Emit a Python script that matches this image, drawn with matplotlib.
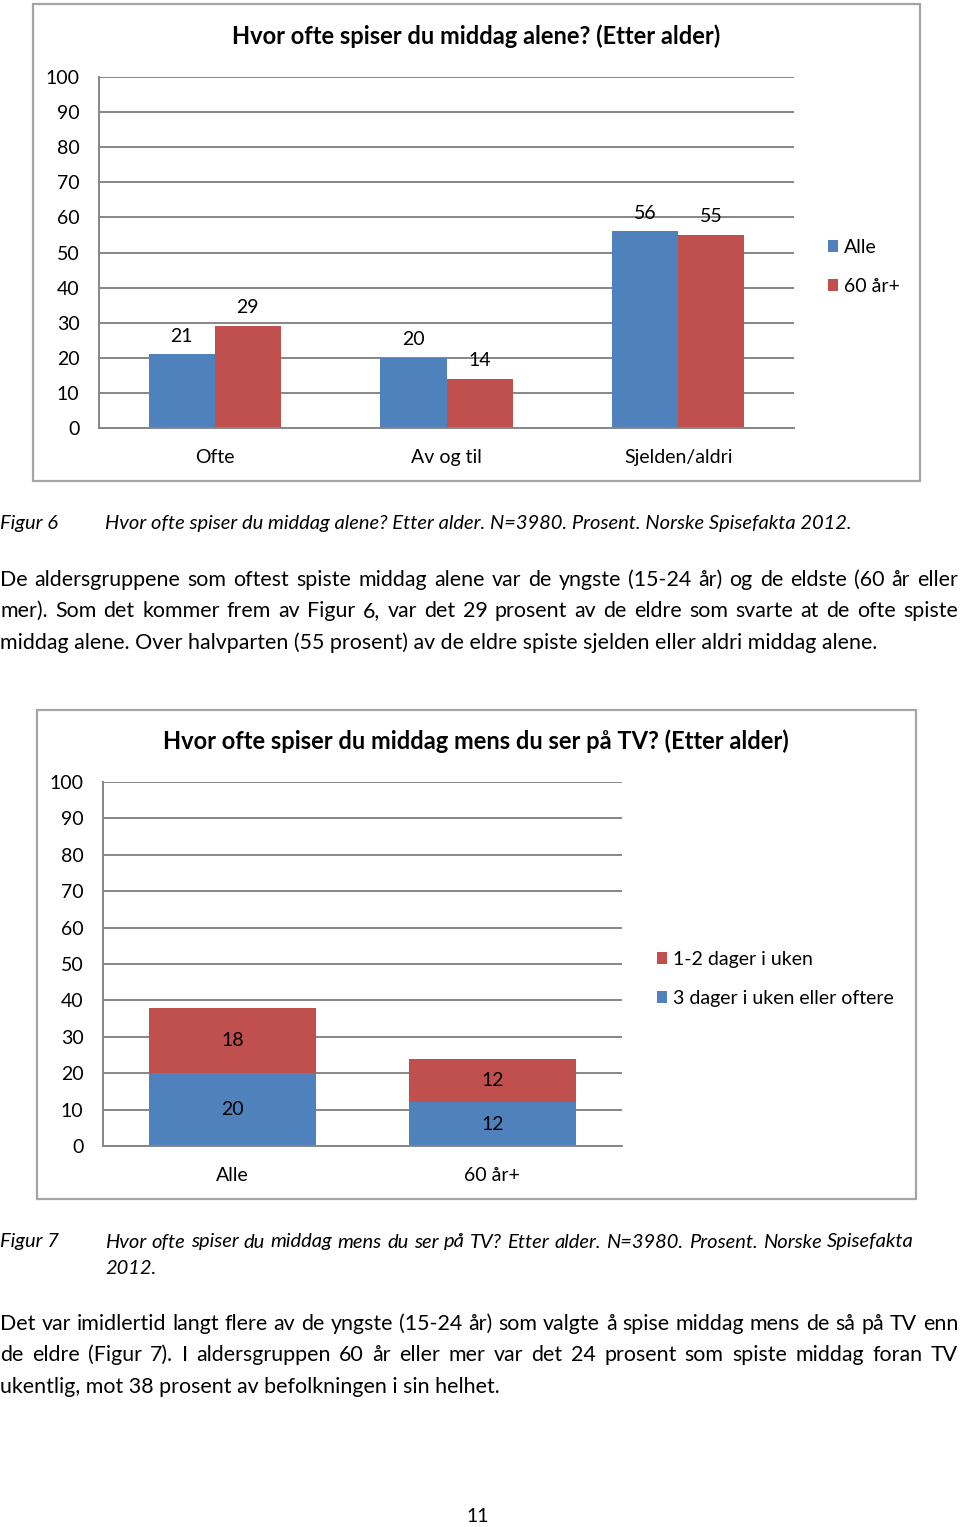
import matplotlib
matplotlib.use("Agg")
import matplotlib.pyplot as plt
from matplotlib.patches import Rectangle
import numpy as np

plt.rcParams['font.family'] = ['Lato', 'DejaVu Sans']

# ---------------- data ----------------
cats1 = ["Ofte", "Av og til", "Sjelden/aldri"]
alle1 = [21, 20, 56]
eldre1 = [29, 14, 55]
series1 = ["Alle", "60 år+"]
title1 = "Hvor ofte spiser du middag alene? (Etter alder)"

cats2 = ["Alle", "60 år+"]
often2 = [20, 12]      # 3 dager i uken eller oftere
weekly2 = [18, 12]     # 1-2 dager i uken
series2 = ["3 dager i uken eller oftere", "1-2 dager i uken"]
title2 = "Hvor ofte spiser du middag mens du ser på TV? (Etter alder)"

yticks = list(range(0, 101, 10))

cap6_label = "Figur 6"
cap6_text = "Hvor ofte spiser du middag alene? Etter alder. N=3980. Prosent. Norske Spisefakta 2012."
para1 = [
    "De aldersgruppene som oftest spiste middag alene var de yngste (15-24 år) og de eldste (60 år eller",
    "mer). Som det kommer frem av Figur 6, var det 29 prosent av de eldre som svarte at de ofte spiste",
    "middag alene. Over halvparten (55 prosent) av de eldre spiste sjelden eller aldri middag alene.",
]
cap7_label = "Figur 7"
cap7_lines = ["Hvor ofte spiser du middag mens du ser på TV? Etter alder. N=3980. Prosent. Norske Spisefakta",
              "2012."]
para2 = [
    "Det var imidlertid langt flere av de yngste (15-24 år) som valgte å spise middag mens de så på TV enn",
    "de eldre (Figur 7). I aldersgruppen 60 år eller mer var det 24 prosent som spiste middag foran TV",
    "ukentlig, mot 38 prosent av befolkningen i sin helhet.",
]
page_no = "11"

# ---------------- layout ----------------
W, H = 960, 1527
fig = plt.figure(figsize=(W / 100, H / 100), dpi=100)
BLUE = "#4F81BD"
RED = "#C0504D"
GRID = "#868686"
FS = 14.0        # chart text
FT = 17.0        # chart titles
FB = 15.4        # body text
FC = 14.5        # captions

def fx(x):
    return x / W

def fy(y):
    return 1 - y / H

def axes_px(x0, y0, x1, y1):
    return fig.add_axes([fx(x0), fy(y1), (x1 - x0) / W, (y1 - y0) / H])

def frame(x0, y0, x1, y1):
    fig.patches.append(Rectangle((fx(x0), fy(y1)), (x1 - x0) / W, (y1 - y0) / H,
                                 transform=fig.transFigure, fill=False,
                                 edgecolor="#A5A5A5", linewidth=1.6))

def style_axes(ax):
    ax.set_ylim(0, 100)
    ax.set_yticks(yticks)
    ax.yaxis.grid(True, color=GRID, linewidth=1.4)
    ax.set_axisbelow(True)
    for s in ["top", "right"]:
        ax.spines[s].set_visible(False)
    for s in ["left", "bottom"]:
        ax.spines[s].set_color(GRID)
        ax.spines[s].set_linewidth(1.4)
    ax.tick_params(axis='y', length=0, pad=14, labelsize=FS)
    ax.tick_params(axis='x', length=0, pad=15, labelsize=FS)
    ax.set_facecolor("none")

# ---- chart 1 ----
frame(33, 4, 920, 481)
fig.text(fx(476), fy(36), title1, ha="center", va="center", fontsize=FT, fontweight="bold")
ax1 = axes_px(99, 77, 794, 428)
style_axes(ax1)
x = np.arange(len(cats1))
bw = 0.285
b1 = ax1.bar(x - bw / 2, alle1, bw, color=BLUE, label=series1[0])
b2 = ax1.bar(x + bw / 2, eldre1, bw, color=RED, label=series1[1])
ax1.set_xlim(-0.5, len(cats1) - 0.5)
ax1.set_xticks(x)
ax1.set_xticklabels(cats1)
ax1.bar_label(b1, padding=7, fontsize=FS)
ax1.bar_label(b2, padding=7, fontsize=FS)
ax1.legend(loc="center left", bbox_to_anchor=(fx(818), fy(267)), bbox_transform=fig.transFigure,
           frameon=False, fontsize=FS, handlelength=0.55, handleheight=0.55,
           handletextpad=0.3, labelspacing=1.12, borderpad=0)

# ---- chart 2 ----
frame(37, 710, 916, 1199)
fig.text(fx(476), fy(741), title2, ha="center", va="center", fontsize=FT, fontweight="bold")
ax2 = axes_px(103, 782, 622, 1146)
style_axes(ax2)
x2 = np.arange(len(cats2))
bw2 = 0.645
s1 = ax2.bar(x2, often2, bw2, color=BLUE, label=series2[0])
s2 = ax2.bar(x2, weekly2, bw2, bottom=often2, color=RED, label=series2[1])
ax2.set_xlim(-0.5, len(cats2) - 0.5)
ax2.set_xticks(x2)
ax2.set_xticklabels(cats2)
ax2.bar_label(s1, label_type="center", fontsize=FS)
ax2.bar_label(s2, label_type="center", fontsize=FS)
h, l = ax2.get_legend_handles_labels()
ax2.legend(h[::-1], l[::-1], loc="center left", bbox_to_anchor=(fx(647), fy(979)),
           bbox_transform=fig.transFigure, frameon=False, fontsize=FS,
           handlelength=0.55, handleheight=0.55, handletextpad=0.3,
           labelspacing=1.12, borderpad=0)

# ---------------- document text ----------------
renderer = fig.canvas.get_renderer()

def justified(line, y, x0=0, x1=958, fs=FB, style="normal"):
    words = line.split(" ")
    objs = []
    widths = []
    for w_ in words:
        t = fig.text(0, fy(y), w_, fontsize=fs, style=style, va="center", ha="left")
        objs.append(t)
        widths.append(t.get_window_extent(renderer).width)
    gap = (x1 - x0 - sum(widths)) / max(len(words) - 1, 1)
    pos = x0
    for t, wd in zip(objs, widths):
        t.set_x(fx(pos))
        pos += wd + gap

def plain(line, y, x0=0, fs=FB, style="normal"):
    fig.text(fx(x0), fy(y), line, fontsize=fs, style=style, va="center", ha="left")

plain(cap6_label, 523, 0, style="italic", fs=FC)
plain(cap6_text, 523, 105, style="italic", fs=FC)

ys1 = [580, 611, 643]
for i, (ln, yy) in enumerate(zip(para1, ys1)):
    if i < len(para1) - 1:
        justified(ln, yy)
    else:
        plain(ln, yy)

plain(cap7_label, 1242, 0, style="italic", fs=FC)
justified(cap7_lines[0], 1242, x0=105, x1=914, style="italic", fs=FC)
plain(cap7_lines[1], 1268, 105, style="italic", fs=FC)

ys2 = [1324, 1355, 1387]
for i, (ln, yy) in enumerate(zip(para2, ys2)):
    if i < len(para2) - 1:
        justified(ln, yy)
    else:
        plain(ln, yy)

fig.text(fx(478), fy(1517), page_no, fontsize=FS, ha="center", va="center")

fig.savefig("out.png", dpi=100, facecolor="white")
